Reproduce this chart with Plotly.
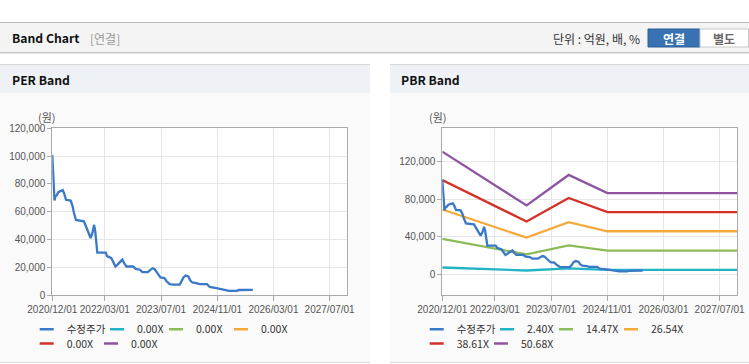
import plotly.graph_objects as go

W, H = 749, 364

# ---------------- data ----------------
price_dates = [
    "2020-12-01", "2020-12-05", "2020-12-09", "2020-12-14", "2020-12-20", "2020-12-28",
    "2021-01-10", "2021-01-22", "2021-02-11", "2021-03-01", "2021-03-12", "2021-03-30",
    "2021-05-09", "2021-05-24", "2021-06-07", "2021-06-24", "2021-09-01", "2021-09-16",
    "2021-10-03", "2021-10-29", "2021-11-13", "2021-11-28", "2021-12-07", "2021-12-16",
    "2021-12-26", "2022-03-09", "2022-03-20", "2022-04-27", "2022-05-17", "2022-06-01",
    "2022-06-15", "2022-07-08", "2022-07-31", "2022-08-18", "2022-09-04", "2022-11-01",
    "2022-11-24", "2022-12-29", "2023-01-21", "2023-03-08", "2023-03-25", "2023-04-18",
    "2023-05-05", "2023-05-22", "2023-06-14", "2023-06-26", "2023-07-30", "2023-08-16",
    "2023-09-14", "2023-10-13", "2023-12-10", "2023-12-27", "2024-01-13", "2024-01-31",
    "2024-02-23", "2024-03-11", "2024-03-29", "2024-05-02", "2024-05-31", "2024-08-03",
    "2024-08-26", "2024-10-23", "2024-12-08", "2025-02-10", "2025-04-20", "2025-05-05",
    "2025-09-03",
]
price_values = [
    101000, 93000, 83000, 75000, 68000, 71000,
    72000, 74000, 75000, 75500, 73500, 68500,
    68000, 64500, 59000, 54000, 53000, 49500,
    45500, 41000, 44500, 50500, 46500, 39500,
    30500, 30500, 28000, 26500, 23000, 20500,
    21500, 23500, 25500, 22500, 20500, 20500,
    18800, 18200, 16500, 16500, 17500, 19300,
    18800, 17000, 14600, 12700, 12200, 10100,
    7800, 7500, 7500, 9700, 12800, 14000,
    13300, 10400, 9000, 8500, 7800, 7800,
    5800, 5000, 4300, 3000, 3000, 3600,
    3700,
]

band_dates = ["2020-12-01", "2022-12-01", "2023-12-01", "2024-11-01", "2027-12-01"]
pbr_band_1 = [7100, 3900, 6100, 4600, 4600]        # 2.40X
pbr_band_2 = [37500, 21100, 30700, 25000, 25000]   # 14.47X
pbr_band_3 = [68900, 38900, 55400, 45700, 45700]   # 26.54X
pbr_band_4 = [100200, 56100, 81100, 66100, 66100]  # 38.61X
pbr_band_5 = [130500, 73200, 105700, 86400, 86400]  # 50.68X

per_band_1 = [None, None, None, None, None]  # 0.00X (no values)
per_band_2 = [None, None, None, None, None]
per_band_3 = [None, None, None, None, None]
per_band_4 = [None, None, None, None, None]
per_band_5 = [None, None, None, None, None]

price_name = "수정주가"
per_names = ["0.00X", "0.00X", "0.00X", "0.00X", "0.00X"]
pbr_names = ["2.40X", "14.47X", "26.54X", "38.61X", "50.68X"]

x_tick_vals = ["2020-12-01", "2022-03-01", "2023-07-01", "2024-11-01", "2026-03-01", "2027-07-01"]
x_tick_text = ["2020/12/01", "2022/03/01", "2023/07/01", "2024/11/01", "2026/03/01", "2027/07/01"]
x_range = ["2020-12-01", "2027-12-01"]

per_y_ticks = [0, 20000, 40000, 60000, 80000, 100000, 120000]
per_y_range = [0, 120000]
pbr_y_ticks = [0, 40000, 80000, 120000]
pbr_y_range = [-22200, 155400]

colors = ["#3a78c8", "#22b3c5", "#8dbb5a", "#f5a93b", "#d53129", "#8f54a0"]

# ---------------- helpers (layout positions in px) ----------------
def px(x):
    return x / W


def py(y):
    return 1 - y / H


KR = "Noto Sans CJK KR"
TICKF = "Liberation Sans"

fig = go.Figure()

per_bands = [per_band_1, per_band_2, per_band_3, per_band_4, per_band_5]
pbr_bands = [pbr_band_1, pbr_band_2, pbr_band_3, pbr_band_4, pbr_band_5]

# real data traces
fig.add_trace(go.Scatter(x=price_dates, y=price_values, mode="lines", name=price_name,
                         line=dict(color=colors[0], width=2.3), showlegend=False,
                         xaxis="x", yaxis="y"))
for i, vals in enumerate(per_bands):
    fig.add_trace(go.Scatter(x=band_dates, y=vals, mode="lines", name=per_names[i],
                             line=dict(color=colors[i + 1], width=2.3), showlegend=False,
                             xaxis="x", yaxis="y"))
for i, vals in enumerate(pbr_bands):
    fig.add_trace(go.Scatter(x=band_dates, y=vals, mode="lines", name=pbr_names[i],
                             line=dict(color=colors[i + 1], width=2.3), showlegend=False,
                             xaxis="x2", yaxis="y2"))
fig.add_trace(go.Scatter(x=price_dates, y=price_values, mode="lines", name=price_name,
                         line=dict(color=colors[0], width=2.3), showlegend=False,
                         xaxis="x2", yaxis="y2"))

# legends: one small legend per entry, placed like the original
text_x_row1 = [66.7, 137.0, 196.0, 261.0]
text_x_row2 = [66.7, 131.0]
row_y = [329.3, 343.5]
legend_layouts = {}
n = 0
for panel, (names, xa, ya, off) in enumerate([
        ([price_name] + per_names, "x", "y", 0.0),
        ([price_name] + pbr_names, "x2", "y2", 390.0)]):
    for i, nm in enumerate(names):
        n += 1
        key = "legend" if n == 1 else f"legend{n}"
        if i < 4:
            tx, ty = text_x_row1[i], row_y[0]
        else:
            tx, ty = text_x_row2[i - 4], row_y[1]
        box_left = tx + off - 40
        legend_layouts[key] = dict(
            x=px(box_left), y=py(ty), xanchor="left", yanchor="middle",
            orientation="h", bgcolor="rgba(0,0,0,0)", borderwidth=0,
            font=dict(family=KR, size=10.5, color="#333333"),
        )
        fig.add_trace(go.Scatter(
            x=[None], y=[None], mode="markers", name=nm,
            marker=dict(symbol="line-ew", size=10, color=colors[i],
                        line=dict(width=2.5, color=colors[i])),
            legend=key, showlegend=True, hoverinfo="skip", xaxis=xa, yaxis=ya))

# ---------------- decoration shapes ----------------
shapes = []


def rect(x0, y0, x1, y1, fill, line_color=None, lw=0):
    shapes.append(dict(type="rect", xref="paper", yref="paper",
                       x0=px(x0), x1=px(x1), y0=py(y1), y1=py(y0),
                       fillcolor=fill, line=dict(width=lw, color=line_color or fill),
                       layer="below"))


def hline(x0, x1, y, color, lw=1):
    shapes.append(dict(type="line", xref="paper", yref="paper",
                       x0=px(x0), x1=px(x1), y0=py(y), y1=py(y),
                       line=dict(width=lw, color=color), layer="below"))


# header bar
rect(0, 23, W, 52, "#f4f4f4")
hline(0, W, 22.5, "#bcbcbc")
hline(0, W, 52.5, "#c6c6c6")
hline(0, W, 53.5, "#e4e4e4")
# buttons
rect(648, 29, 700, 47, "#3872b2", "#2d5f98", 1)
rect(700, 29, 748.5, 47, "#ffffff", "#c8c8c8", 1)
# panels
for x0, x1 in [(0, 370), (390, W)]:
    rect(x0, 65, x1, 93, "#eef2f7")
    rect(x0, 93, x1, 362, "#fafafa")
    hline(x0, x1, 64.5, "#d6d6d6")
    hline(x0, x1, 362.5, "#dadada")
# plot areas white
for xr, yr in [("x domain", "y domain"), ("x2 domain", "y2 domain")]:
    shapes.append(dict(type="rect", xref=xr, yref=yr, x0=0, x1=1, y0=0, y1=1,
                       fillcolor="#ffffff", line=dict(width=0), layer="below"))

# ---------------- annotations ----------------
ann = []


def text(x, y, s, size=12, color="#333", bold=False, anchor="left", family=KR):
    ann.append(dict(xref="paper", yref="paper", x=px(x), y=py(y), text=(f"<b>{s}</b>" if bold else s),
                    showarrow=False, xanchor=anchor, yanchor="middle",
                    font=dict(family=family, size=size, color=color)))


text(9.5, 38.3, "Band Chart", 12.2, "#111111", True)
text(87.5, 38.3, "[연결]", 12, "#9a9a9a")
text(642, 38.3, "단위 : 억원, 배, %", 12, "#333333", anchor="right")
text(674, 38.3, "연결", 12, "#ffffff", True, "center")
text(724, 38.3, "별도", 12, "#666666", True, "center")
text(9.5, 79.5, "PER Band", 12.2, "#111111", True)
text(399.5, 79.5, "PBR Band", 12.2, "#111111", True)
text(47, 117.4, "(원)", 11, "#555555", anchor="center")
text(437.5, 117.4, "(원)", 11, "#555555", anchor="center")

# ---------------- axes ----------------
common_x = dict(type="date", range=x_range, tickvals=x_tick_vals, ticktext=x_tick_text,
                showgrid=True, gridcolor="#e6e6e6", gridwidth=1, showline=True,
                linecolor="#aaaaaa", linewidth=1, mirror=True, ticks="outside", ticklen=5,
                tickcolor="#aaaaaa", tickfont=dict(family=TICKF, size=10, color="#555555"),
                zeroline=False, fixedrange=True)
common_y = dict(showgrid=True, gridcolor="#e6e6e6", gridwidth=1, showline=True,
                linecolor="#aaaaaa", linewidth=1, mirror=True, ticks="outside", ticklen=4,
                tickcolor="#aaaaaa", tickfont=dict(family=TICKF, size=10, color="#555555"),
                tickformat=",d", zeroline=False, fixedrange=True)

y_dom = [py(295), py(128.3)]
layout = dict(
    width=W, height=H, margin=dict(l=0, r=0, t=0, b=0, autoexpand=False),
    paper_bgcolor="#ffffff", plot_bgcolor="rgba(0,0,0,0)",
    xaxis=dict(common_x, domain=[px(52.3), px(347.3)], anchor="y"),
    yaxis=dict(common_y, domain=y_dom, range=per_y_range, tickvals=per_y_ticks, anchor="x"),
    xaxis2=dict(common_x, domain=[px(442.3), px(737.3)], anchor="y2"),
    yaxis2=dict(common_y, domain=y_dom, range=pbr_y_range, tickvals=pbr_y_ticks, anchor="x2"),
    shapes=shapes, annotations=ann, hovermode=False,
)
layout.update(legend_layouts)
fig.update_layout(**layout)

fig.write_html(
    "out.html",
    config={"displayModeBar": False, "staticPlot": True},
    post_script="document.body.style.margin='0';document.body.style.padding='0';",
)
